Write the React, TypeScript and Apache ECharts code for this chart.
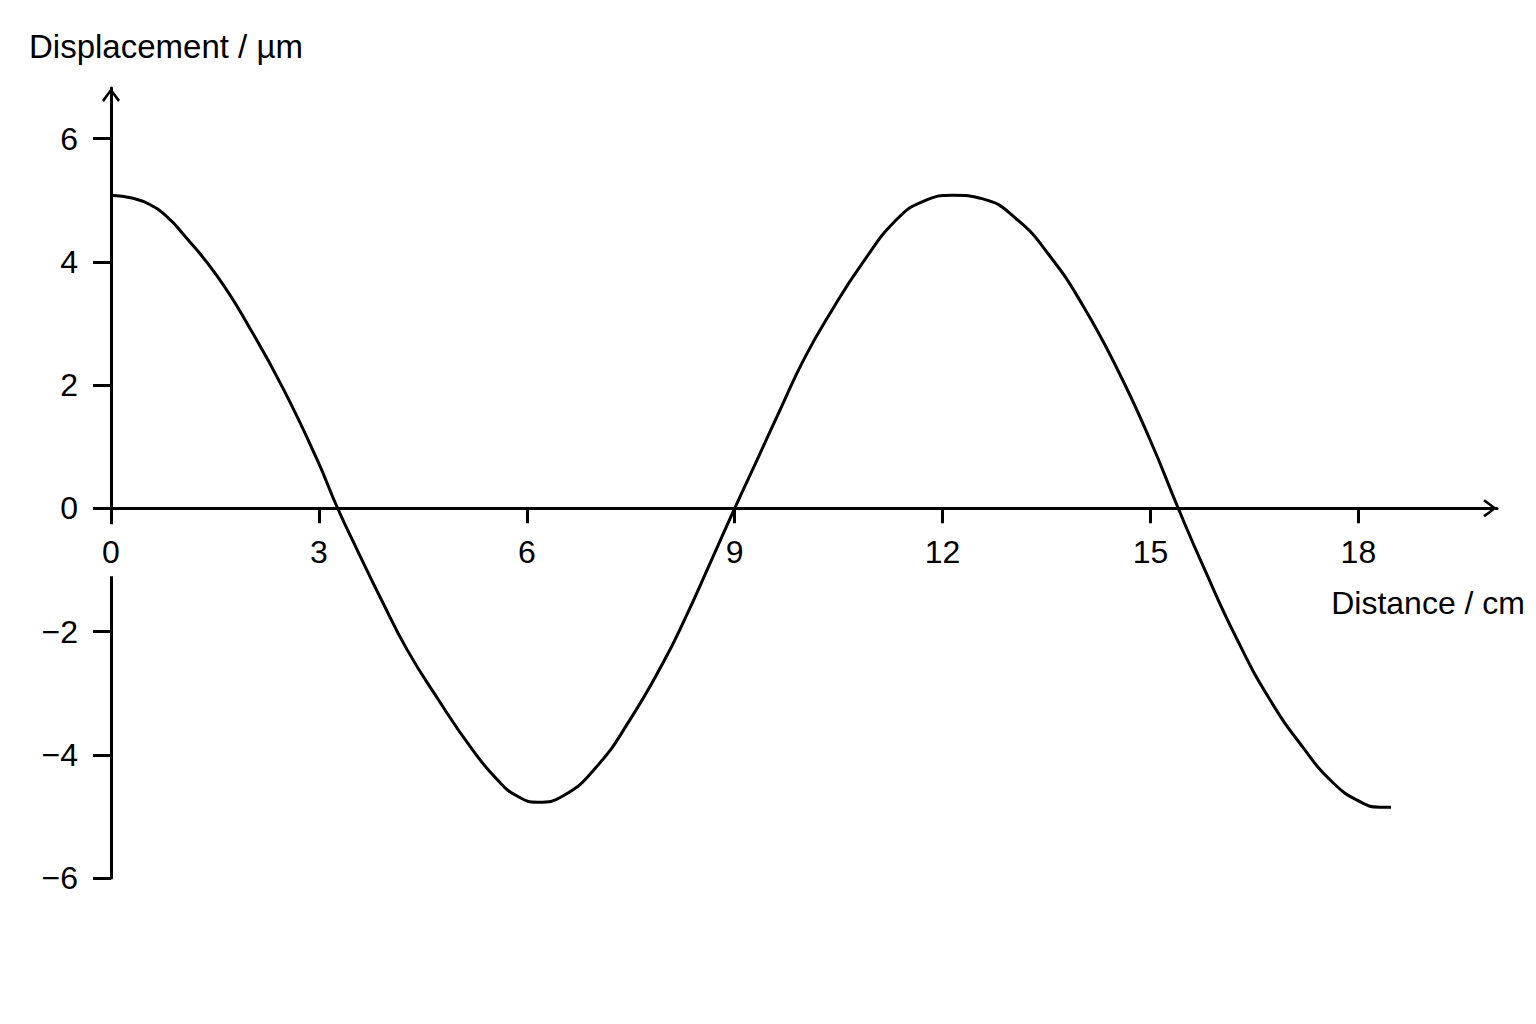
import React, { useEffect, useRef } from "react";
import * as echarts from "echarts";

// Wave
const distance = [
  0, 0.32, 0.56, 0.81, 1.04, 1.53, 2.01, 2.49, 2.97, 3.27, 3.55, 3.9, 4.27, 4.72, 5.21, 5.57,
  5.86, 6.16, 6.52, 7.01, 7.49, 7.97, 8.28, 8.67, 9.0, 9.33, 9.66, 10.0, 10.38, 10.85, 11.34,
  11.72, 12.15, 12.58, 13.07, 13.55, 14.03, 14.52, 14.99, 15.4, 15.76, 16.25, 16.72, 17.2,
  17.63, 18.02, 18.31, 18.47,
];
const displacement = [
  5.08, 5.03, 4.93, 4.73, 4.45, 3.77, 2.91, 1.93, 0.8, 0, -0.67, -1.48, -2.29, -3.1, -3.91,
  -4.4, -4.67, -4.77, -4.67, -4.19, -3.43, -2.5, -1.8, -0.83, 0, 0.8, 1.61, 2.42, 3.17, 3.99,
  4.69, 4.98, 5.08, 5.02, 4.69, 4.09, 3.28, 2.26, 1.12, 0, -0.94, -2.13, -3.1, -3.88, -4.45,
  -4.76, -4.85, -4.85,
];
const xTicks = [0, 3, 6, 9, 12, 15, 18];
const yTicks = [-6, -4, -2, 0, 2, 4, 6];
const xName = "Distance / cm";
const yName = "Displacement / µm";

const FONT = "'Liberation Sans', Arial, Helvetica, sans-serif";
const chevron = "path://M9 0 L18 12 L16 13.8 L9 3.9 L2 13.8 L0 12 Z";

export default function App() {
  const ref = useRef<HTMLDivElement>(null);
  useEffect(() => {
    if (!ref.current) return;
    const chart = echarts.init(ref.current, undefined, { renderer: "svg" });
    const axisLineStyle = { color: "#000", width: 3 };
    const option: any = {
      animation: false,
      backgroundColor: "#fff",
      title: [
        {
          text: yName,
          left: 29,
          top: 30,
          padding: 0,
          textStyle: { fontFamily: FONT, fontSize: 33, fontWeight: "normal", color: "#000" },
        },
        {
          text: xName,
          right: 11,
          top: 587,
          padding: 0,
          textStyle: { fontFamily: FONT, fontSize: 32, fontWeight: "normal", color: "#000" },
        },
      ],
      grid: { left: 111, right: 39, top: 88, bottom: 146, containLabel: false },
      xAxis: {
        type: "value",
        min: 0,
        max: 20,
        z: 10,
        offset: 0,
        splitLine: { show: false },
        axisLine: {
          show: true,
          onZero: false,
          lineStyle: axisLineStyle,
          symbol: ["none", chevron],
          symbolSize: [18, 14],
          symbolOffset: [0, -7],
        },
        axisTick: {
          show: true,
          inside: false,
          length: 15,
          lineStyle: axisLineStyle,
          customValues: xTicks,
        },
        axisLabel: {
          show: true,
          customValues: xTicks,
          margin: 28,
          fontSize: 32,
          fontFamily: FONT,
          color: "#000",
        },
      },
      yAxis: {
        type: "value",
        min: -6,
        max: 6.82,
        z: 0,
        splitLine: { show: false },
        axisLine: {
          show: true,
          onZero: false,
          lineStyle: axisLineStyle,
          symbol: ["none", chevron],
          symbolSize: [18, 14],
          symbolOffset: [0, -7],
        },
        axisTick: {
          show: true,
          inside: false,
          length: 18,
          lineStyle: axisLineStyle,
          customValues: yTicks,
        },
        axisLabel: {
          show: true,
          customValues: yTicks,
          margin: 33,
          fontSize: 32,
          fontFamily: FONT,
          color: "#000",
          formatter: (v: number) => (v < 0 ? "\u2212" + Math.abs(v) : String(v)),
        },
      },
      series: [
        {
          type: "line",
          data: distance.map((d, i) => [d, displacement[i]]),
          smooth: 0.5,
          showSymbol: false,
          clip: false,
          lineStyle: { color: "#000", width: 3 },
        },
      ],
    };
    chart.setOption(option);
    const p0 = chart.convertToPixel({ xAxisIndex: 0, yAxisIndex: 0 }, [0, 0]) as number[];
    const pb = chart.convertToPixel({ xAxisIndex: 0, yAxisIndex: 0 }, [0, yTicks[0]]) as number[];
    chart.setOption({
      xAxis: { offset: -(pb[1] - p0[1]) },
      graphic: [
        {
          type: "rect",
          z: 5,
          silent: true,
          shape: { x: p0[0] - 5, y: p0[1] + 16, width: 10, height: 52 },
          style: { fill: "#fff" },
        },
      ],
    });
    return () => chart.dispose();
  }, []);
  return (
    <div
      ref={ref}
      style={{ position: "fixed", left: 0, top: 0, width: 1536, height: 1024 }}
    />
  );
}
